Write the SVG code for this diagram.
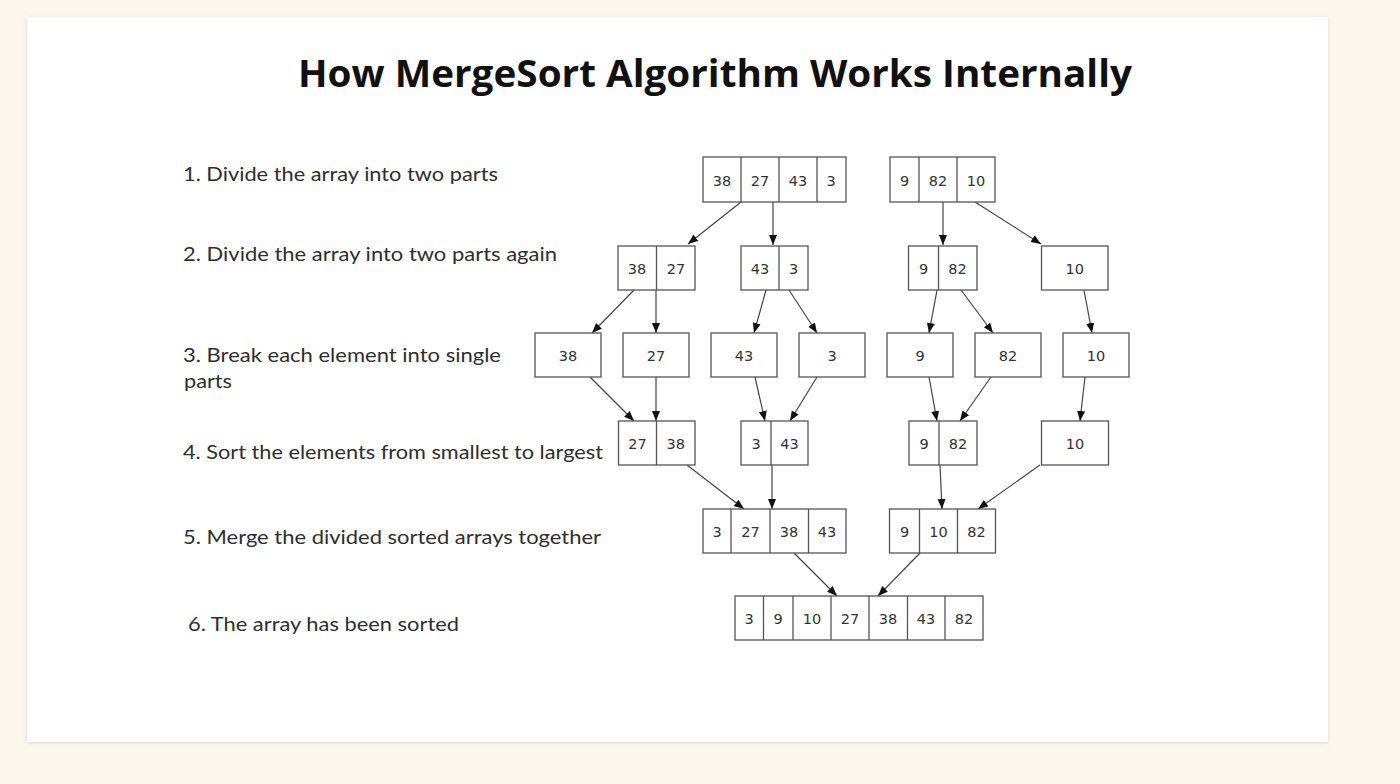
<svg xmlns="http://www.w3.org/2000/svg" width="1400" height="784" viewBox="0 0 1400 784">
<defs>
<filter id="sh" x="-5%" y="-5%" width="110%" height="110%"><feDropShadow dx="0" dy="1" stdDeviation="2" flood-color="#000" flood-opacity="0.12"/></filter>
<marker id="ah" markerUnits="userSpaceOnUse" markerWidth="11" markerHeight="9" refX="10" refY="4" orient="auto"><path d="M0,0 L10,4 L0,8 z" fill="#111"/></marker>
<style>
.bx{fill:#fff;stroke:#555;stroke-width:1.3}
.dv{stroke:#555;stroke-width:1.3}
.n{font-family:"DejaVu Sans",sans-serif;font-size:14.5px;fill:#333;text-anchor:middle}
.lb{font-family:Lato,"Open Sans",sans-serif;font-size:19px;fill:#2e2e2e}
.c{stroke:#444;stroke-width:1.2;fill:none;marker-end:url(#ah)}
</style>
</defs>
<rect width="1400" height="784" fill="#fbf7ed"/>
<rect x="27" y="17" width="1301" height="725" fill="#fff" filter="url(#sh)"/>
<text x="715" y="87" font-family="'Open Sans',sans-serif" font-weight="bold" font-size="38" fill="#111" text-anchor="middle" textLength="834" lengthAdjust="spacingAndGlyphs">How MergeSort Algorithm Works Internally</text>

<g id="labels">
<text class="lb" x="183" y="181" textLength="315" lengthAdjust="spacingAndGlyphs">1. Divide the array into two parts</text>
<text class="lb" x="183" y="261" textLength="374" lengthAdjust="spacingAndGlyphs">2. Divide the array into two parts again</text>
<text class="lb" x="183" y="362" textLength="318" lengthAdjust="spacingAndGlyphs">3. Break each element into single</text>
<text class="lb" x="184" y="388" textLength="48" lengthAdjust="spacingAndGlyphs">parts</text>
<text class="lb" x="183" y="459" textLength="420" lengthAdjust="spacingAndGlyphs">4. Sort the  elements from smallest to largest</text>
<text class="lb" x="183" y="544" textLength="418" lengthAdjust="spacingAndGlyphs">5. Merge the divided sorted arrays together</text>
<text class="lb" x="188" y="631" textLength="271" lengthAdjust="spacingAndGlyphs">6. The array has been sorted</text>
</g>

<g id="connectors">
<line class="c" x1="741" y1="202" x2="688" y2="244"/>
<line class="c" x1="773" y1="202" x2="773" y2="245"/>
<line class="c" x1="943" y1="202" x2="943" y2="245"/>
<line class="c" x1="975" y1="202" x2="1041" y2="244"/>
<line class="c" x1="634" y1="290" x2="592" y2="333"/>
<line class="c" x1="656" y1="290" x2="656" y2="333"/>
<line class="c" x1="766" y1="290" x2="754" y2="333"/>
<line class="c" x1="789" y1="290" x2="817" y2="333"/>
<line class="c" x1="937" y1="290" x2="929" y2="333"/>
<line class="c" x1="961" y1="290" x2="993" y2="333"/>
<line class="c" x1="1084" y1="290" x2="1092" y2="333"/>
<line class="c" x1="590" y1="377" x2="634" y2="421"/>
<line class="c" x1="656" y1="377" x2="656" y2="421"/>
<line class="c" x1="755" y1="377" x2="765" y2="421"/>
<line class="c" x1="817" y1="377" x2="790" y2="421"/>
<line class="c" x1="929" y1="377" x2="937" y2="421"/>
<line class="c" x1="991" y1="377" x2="960" y2="421"/>
<line class="c" x1="1085" y1="377" x2="1080" y2="421"/>
<line class="c" x1="687" y1="465" x2="744" y2="509"/>
<line class="c" x1="772" y1="465" x2="772" y2="509"/>
<line class="c" x1="940" y1="465" x2="942" y2="509"/>
<line class="c" x1="1040" y1="465" x2="978" y2="509"/>
<line class="c" x1="794" y1="553" x2="837" y2="596"/>
<line class="c" x1="920" y1="553" x2="878" y2="596"/>
</g>

<g id="r1a"><rect class="bx" x="703" y="157" width="143" height="45"/><line class="dv" x1="741" y1="157" x2="741" y2="202"/><line class="dv" x1="779" y1="157" x2="779" y2="202"/><line class="dv" x1="817" y1="157" x2="817" y2="202"/>
<text class="n" x="722" y="186">38</text><text class="n" x="760" y="186">27</text><text class="n" x="798" y="186">43</text><text class="n" x="831" y="186">3</text></g>
<g id="r1b"><rect class="bx" x="890" y="157" width="105" height="45"/><line class="dv" x1="919" y1="157" x2="919" y2="202"/><line class="dv" x1="957" y1="157" x2="957" y2="202"/>
<text class="n" x="904.5" y="186">9</text><text class="n" x="938" y="186">82</text><text class="n" x="976" y="186">10</text></g>

<g id="r2a"><rect class="bx" x="618" y="246" width="77" height="44"/><line class="dv" x1="656.5" y1="246" x2="656.5" y2="290"/>
<text class="n" x="637" y="274">38</text><text class="n" x="676" y="274">27</text></g>
<g id="r2b"><rect class="bx" x="741" y="246" width="67" height="44"/><line class="dv" x1="779" y1="246" x2="779" y2="290"/>
<text class="n" x="760" y="274">43</text><text class="n" x="793.5" y="274">3</text></g>
<g id="r2c"><rect class="bx" x="908.5" y="246" width="68.5" height="44"/><line class="dv" x1="938.5" y1="246" x2="938.5" y2="290"/>
<text class="n" x="923.5" y="274">9</text><text class="n" x="957.5" y="274">82</text></g>
<g id="r2d"><rect class="bx" x="1041.5" y="246" width="66.5" height="44"/><text class="n" x="1074.7" y="274">10</text></g>

<g id="r3a"><rect class="bx" x="535" y="333" width="66" height="44"/><text class="n" x="568" y="361">38</text></g>
<g id="r3b"><rect class="bx" x="623" y="333" width="66" height="44"/><text class="n" x="656" y="361">27</text></g>
<g id="r3c"><rect class="bx" x="711" y="333" width="66" height="44"/><text class="n" x="744" y="361">43</text></g>
<g id="r3d"><rect class="bx" x="799" y="333" width="66" height="44"/><text class="n" x="832" y="361">3</text></g>
<g id="r3e"><rect class="bx" x="887" y="333" width="66" height="44"/><text class="n" x="920" y="361">9</text></g>
<g id="r3f"><rect class="bx" x="975" y="333" width="66" height="44"/><text class="n" x="1008" y="361">82</text></g>
<g id="r3g"><rect class="bx" x="1063" y="333" width="66" height="44"/><text class="n" x="1096" y="361">10</text></g>

<g id="r4a"><rect class="bx" x="618.5" y="421" width="76.5" height="44"/><line class="dv" x1="656.5" y1="421" x2="656.5" y2="465"/>
<text class="n" x="637.5" y="449">27</text><text class="n" x="675.8" y="449">38</text></g>
<g id="r4b"><rect class="bx" x="741" y="421" width="67" height="44"/><line class="dv" x1="771" y1="421" x2="771" y2="465"/>
<text class="n" x="756" y="449">3</text><text class="n" x="789.5" y="449">43</text></g>
<g id="r4c"><rect class="bx" x="909" y="421" width="68" height="44"/><line class="dv" x1="939" y1="421" x2="939" y2="465"/>
<text class="n" x="924" y="449">9</text><text class="n" x="958" y="449">82</text></g>
<g id="r4d"><rect class="bx" x="1041.5" y="421" width="67" height="44"/><text class="n" x="1075" y="449">10</text></g>

<g id="r5a"><rect class="bx" x="703" y="509" width="143" height="44"/><line class="dv" x1="731" y1="509" x2="731" y2="553"/><line class="dv" x1="770" y1="509" x2="770" y2="553"/><line class="dv" x1="808.5" y1="509" x2="808.5" y2="553"/>
<text class="n" x="717" y="537">3</text><text class="n" x="750.5" y="537">27</text><text class="n" x="789" y="537">38</text><text class="n" x="827" y="537">43</text></g>
<g id="r5b"><rect class="bx" x="889.5" y="509" width="106" height="44"/><line class="dv" x1="919.5" y1="509" x2="919.5" y2="553"/><line class="dv" x1="957.5" y1="509" x2="957.5" y2="553"/>
<text class="n" x="904.5" y="537">9</text><text class="n" x="938.5" y="537">10</text><text class="n" x="976.5" y="537">82</text></g>

<g id="r6"><rect class="bx" x="735" y="596" width="248" height="44"/>
<line class="dv" x1="763.5" y1="596" x2="763.5" y2="640"/><line class="dv" x1="793" y1="596" x2="793" y2="640"/><line class="dv" x1="831" y1="596" x2="831" y2="640"/><line class="dv" x1="869" y1="596" x2="869" y2="640"/><line class="dv" x1="907.5" y1="596" x2="907.5" y2="640"/><line class="dv" x1="945" y1="596" x2="945" y2="640"/>
<text class="n" x="749" y="624">3</text><text class="n" x="778" y="624">9</text><text class="n" x="812" y="624">10</text><text class="n" x="850" y="624">27</text><text class="n" x="888" y="624">38</text><text class="n" x="926" y="624">43</text><text class="n" x="964" y="624">82</text></g>
</svg>
